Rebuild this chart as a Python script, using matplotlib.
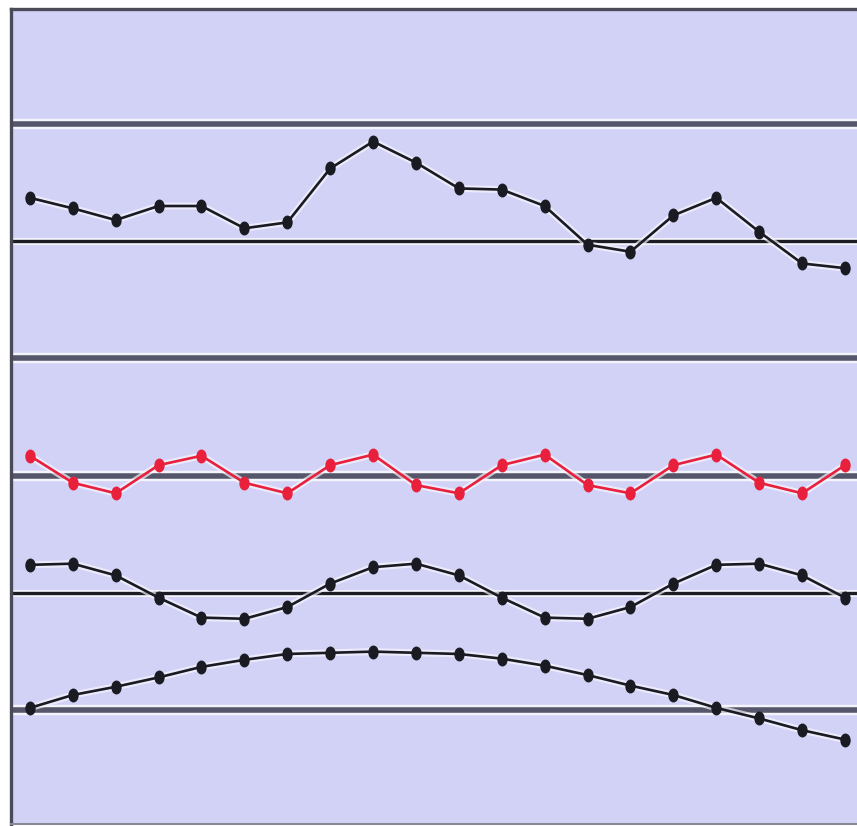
import matplotlib
matplotlib.use("Agg")
from matplotlib import pyplot as plt
from matplotlib.path import Path
import numpy as np

# positions along x (one per sample)
x_index = np.arange(20)

# series values (gridlines sit at 1..6)
top_series = [5.37, 5.28, 5.18, 5.30, 5.30, 5.11, 5.16, 5.62, 5.85, 5.67,
              5.45, 5.44, 5.30, 4.97, 4.91, 5.22, 5.37, 5.08, 4.81, 4.77]
red_series = [3.17, 2.94, 2.85, 3.09, 3.17, 2.94, 2.85, 3.09, 3.18, 2.92,
              2.85, 3.09, 3.18, 2.92, 2.85, 3.09, 3.18, 2.94, 2.85, 3.09]
wave_series = [2.24, 2.25, 2.15, 1.96, 1.79, 1.78, 1.88, 2.08, 2.22, 2.25,
               2.15, 1.96, 1.79, 1.78, 1.88, 2.08, 2.24, 2.25, 2.15, 1.96]
arc_series = [1.02, 1.13, 1.20, 1.28, 1.37, 1.43, 1.48, 1.49, 1.50, 1.49,
              1.48, 1.44, 1.38, 1.30, 1.21, 1.13, 1.02, 0.93, 0.83, 0.75]

thick_levels = [1, 3, 4, 6]
thin_levels = [2, 5]

# tall rounded marker, a bit like the blocky dots in the picture
circ = Path.unit_circle()
tall_dot = Path(circ.vertices * np.array([0.72, 1.0]), circ.codes)

W, H = 857, 826
fig = plt.figure(figsize=(W / 100, H / 100), dpi=100)
fig.patch.set_facecolor("white")
ax = fig.add_axes([11 / W, 2 / H, (W - 11) / W, (824 - 9) / H])
ax.set_facecolor("#d2d2f6")

for lvl in thick_levels:
    ax.axhline(lvl, color="#f4f4fc", lw=7.5, zorder=1)
    ax.axhline(lvl, color="#56566a", lw=4.0, zorder=1.1)
for lvl in thin_levels:
    ax.axhline(lvl, color="#f4f4fc", lw=5.0, zorder=1)
    ax.axhline(lvl, color="#1c1c24", lw=2.4, zorder=1.1)

for vals, col in [(top_series, "#1a1a22"), (wave_series, "#1a1a22"),
                  (arc_series, "#1a1a22"), (red_series, "#e8203c")]:
    ax.plot(x_index, vals, color="#f6f6ff", lw=5, zorder=2, alpha=0.7)
    ax.plot(x_index, vals, color=col, lw=1.9, marker=tall_dot, ms=9,
            mec=col, mfc=col, zorder=3)

ax.set_xlim(-0.44, 19.28)
ax.set_ylim(0.03, 6.98)
ax.set_xticks([])
ax.set_yticks([])
for side in ["left", "top"]:
    ax.spines[side].set_color("#4a4a58")
    ax.spines[side].set_linewidth(2.4)
ax.spines["bottom"].set_color("#8a8a96")
ax.spines["bottom"].set_linewidth(1.5)
ax.spines["right"].set_visible(False)

fig.savefig("out.png", dpi=100)
